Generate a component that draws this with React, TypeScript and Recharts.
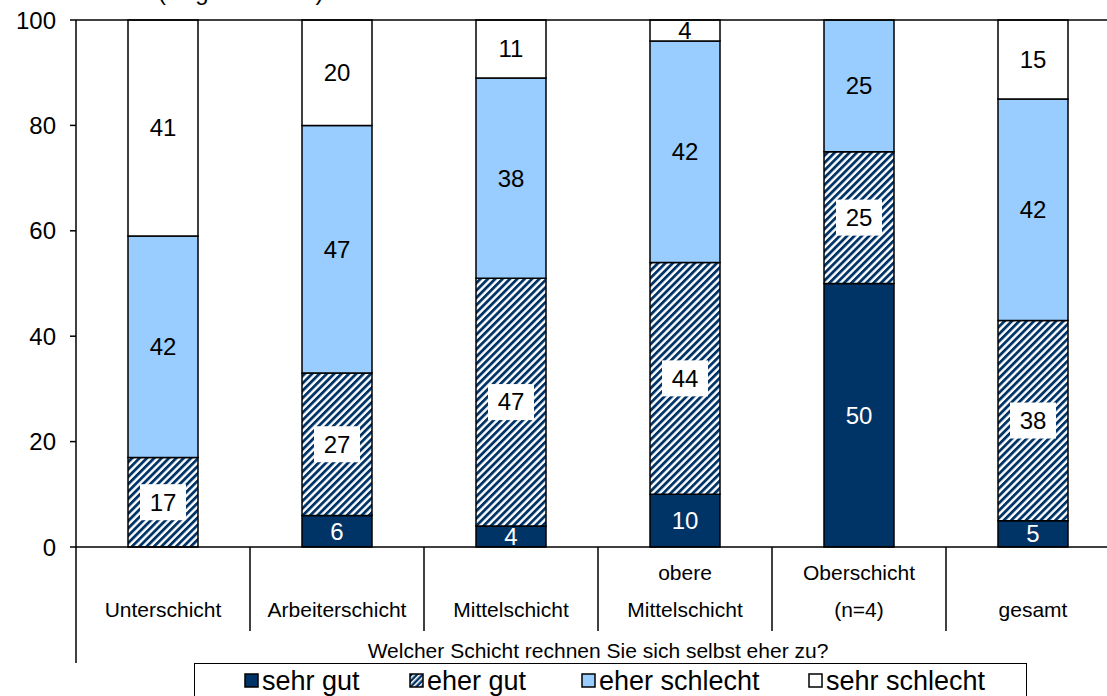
import React from "react";
import { Bar, BarChart, LabelList, Legend, ReferenceLine, XAxis, YAxis } from "recharts";

const categories = ["Unterschicht", "Arbeiterschicht", "Mittelschicht", "obere\nMittelschicht", "Oberschicht\n(n=4)", "gesamt"];
const sehrGut = [0, 6, 4, 10, 50, 5];
const eherGut = [17, 27, 47, 44, 25, 38];
const eherSchlecht = [42, 47, 38, 42, 25, 42];
const sehrSchlecht = [41, 20, 11, 4, 0, 15];
const yTicks = [0, 20, 40, 60, 80, 100];

const NAVY = "#003366";
const LIGHT = "#99CCFF";
const FONT = "'Liberation Sans', Arial, sans-serif";
const CAT_W = 174;

const data = categories.map((name, i) => ({
    name,
    sehrGut: sehrGut[i],
    eherGut: eherGut[i],
    eherSchlecht: eherSchlecht[i],
    sehrSchlecht: sehrSchlecht[i],
}));

const legendItems = [
    { label: "sehr gut", fill: NAVY, left: 49 },
    { label: "eher gut", fill: "url(#hatchLegend)", left: 214 },
    { label: "eher schlecht", fill: LIGHT, left: 386 },
    { label: "sehr schlecht", fill: "#fff", left: 613 },
];

function CategoryTick(props: any) {
    const { x, y, payload } = props;
    const idx = categories.indexOf(payload.value);
    const lines = String(payload.value).split("\n");
    const half = CAT_W / 2;
    return (
        <g>
            {idx === 0 && <line x1={x - half} x2={x - half} y1={y} y2={y + 116} stroke="#000" strokeWidth={1.5} />}
            {idx < categories.length - 1 && (
                <line x1={x + half} x2={x + half} y1={y} y2={y + 84} stroke="#000" strokeWidth={1.5} />
            )}
            {lines.length === 2 && (
                <text x={x} y={y + 26} dy="0.35em" textAnchor="middle" fontSize={21} fill="#000">
                    {lines[0]}
                </text>
            )}
            <text x={x} y={y + 63} dy="0.35em" textAnchor="middle" fontSize={21} fill="#000">
                {lines[lines.length - 1]}
            </text>
        </g>
    );
}

function makeLabel(color: string, boxed: boolean) {
    return (props: any) => {
        const { x, y, width, height, value } = props;
        if (!value) return null;
        const cx = x + width / 2;
        const cy = y + height / 2;
        return (
            <g>
                {boxed && <rect x={cx - 23} y={cy - 18} width={46} height={36} fill="#fff" />}
                <text x={cx} y={cy} dy="0.35em" textAnchor="middle" fontSize={24} fill={color}>
                    {value}
                </text>
            </g>
        );
    };
}

function LegendBox() {
    return (
        <div
            style={{
                position: "relative",
                width: 833,
                height: 50,
                border: "1.5px solid #000",
                boxSizing: "border-box",
                background: "#fff",
                fontFamily: FONT,
            }}
        >
            {legendItems.map((it) => (
                <div key={it.label} style={{ position: "absolute", left: it.left, top: 2, display: "flex", alignItems: "center", whiteSpace: "nowrap" }}>
                    <svg width={17} height={16} style={{ marginRight: 1 }}>
                        <defs>
                            <pattern id="hatchLegend" patternUnits="userSpaceOnUse" width={4} height={4} patternTransform="rotate(45)">
                                <rect width={4} height={4} fill={NAVY} />
                                <rect width={1.6} height={4} fill="#fff" />
                            </pattern>
                        </defs>
                        <rect x={1} y={1} width={13} height={13} fill={it.fill} stroke="#000" strokeWidth={1.5} />
                    </svg>
                    <span style={{ fontSize: 27, lineHeight: "30px", color: "#000" }}>{it.label}</span>
                </div>
            ))}
        </div>
    );
}

export default function App() {
    return (
        <div style={{ position: "absolute", left: 0, top: 0, width: 1107, height: 696, overflow: "hidden", background: "#fff", fontFamily: FONT }}>
            <div style={{ position: "absolute", left: 158, top: -22, fontSize: 24, color: "#000", whiteSpace: "nowrap" }}>
                (Angaben in %)
            </div>
            <BarChart width={1130} height={700} data={data} margin={{ top: 20, right: 10, bottom: 0, left: 0 }} barCategoryGap={0}>
                <defs>
                    <pattern id="hatch" patternUnits="userSpaceOnUse" width={5.2} height={5.2} patternTransform="rotate(45)">
                        <rect width={5.2} height={5.2} fill="#fff" />
                        <rect width={2.8} height={5.2} fill={NAVY} />
                    </pattern>
                </defs>
                <XAxis
                    dataKey="name"
                    interval={0}
                    height={153}
                    tickLine={false}
                    tickSize={0}
                    tickMargin={0}
                    axisLine={{ stroke: "#000", strokeWidth: 1.5 }}
                    tick={<CategoryTick />}
                    label={{
                        value: "Welcher Schicht rechnen Sie sich selbst eher zu?",
                        position: "insideBottom",
                        offset: 42,
                        fontSize: 21,
                        fill: "#000",
                    }}
                />
                <YAxis
                    width={76}
                    domain={[0, 100]}
                    ticks={yTicks}
                    interval={0}
                    tickSize={6}
                    tickMargin={14}
                    axisLine={{ stroke: "#000", strokeWidth: 1.5 }}
                    tickLine={{ stroke: "#000", strokeWidth: 1.5 }}
                    tick={{ fill: "#000", fontSize: 24 }}
                />
                <ReferenceLine y={100} stroke="#000" strokeWidth={1.5} />
                <Legend
                    layout="horizontal"
                    verticalAlign="middle"
                    align="center"
                    wrapperStyle={{ position: "absolute", left: 194, top: 663, width: 833 }}
                    content={() => <LegendBox />}
                />
                <Bar dataKey="sehrGut" name="sehr gut" stackId="a" barSize={70} fill={NAVY} stroke="#000" strokeWidth={1.5} isAnimationActive={false}>
                    <LabelList dataKey="sehrGut" content={makeLabel("#fff", false)} />
                </Bar>
                <Bar dataKey="eherGut" name="eher gut" stackId="a" barSize={70} fill="url(#hatch)" stroke="#000" strokeWidth={1.5} isAnimationActive={false}>
                    <LabelList dataKey="eherGut" content={makeLabel("#000", true)} />
                </Bar>
                <Bar dataKey="eherSchlecht" name="eher schlecht" stackId="a" barSize={70} fill={LIGHT} stroke="#000" strokeWidth={1.5} isAnimationActive={false}>
                    <LabelList dataKey="eherSchlecht" content={makeLabel("#000", false)} />
                </Bar>
                <Bar dataKey="sehrSchlecht" name="sehr schlecht" stackId="a" barSize={70} fill="#fff" stroke="#000" strokeWidth={1.5} isAnimationActive={false}>
                    <LabelList dataKey="sehrSchlecht" content={makeLabel("#000", false)} />
                </Bar>
            </BarChart>
        </div>
    );
}
